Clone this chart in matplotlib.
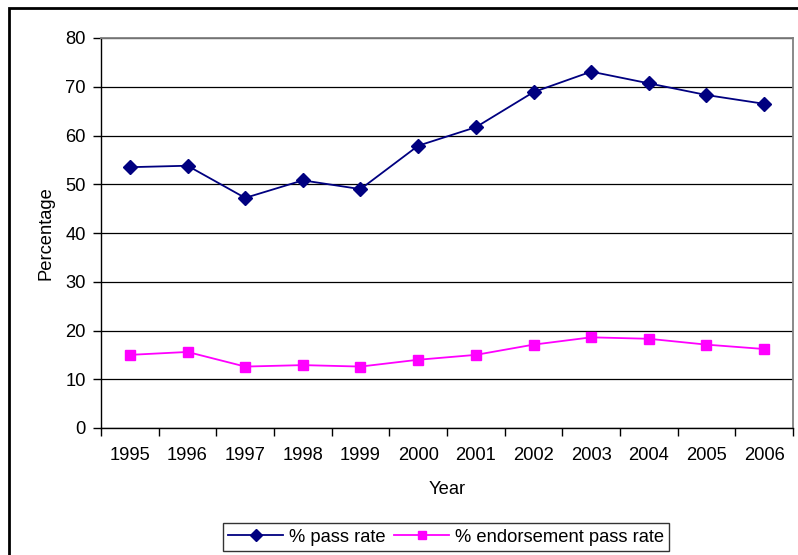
import matplotlib
matplotlib.use("Agg")
import matplotlib.pyplot as plt
from matplotlib.patches import Rectangle

plt.rcParams['font.family'] = ['Liberation Sans', 'DejaVu Sans']

years = ['1995', '1996', '1997', '1998', '1999', '2000',
         '2001', '2002', '2003', '2004', '2005', '2006']
pass_rate = [53.5, 53.8, 47.2, 50.8, 49.0, 57.9, 61.7, 68.9, 73.1, 70.7, 68.3, 66.5]
endorsement_rate = [15.0, 15.6, 12.6, 12.9, 12.6, 14.0, 15.0, 17.1, 18.6, 18.3, 17.1, 16.2]

fs = 13.2

fig = plt.figure(figsize=(7.98, 5.55), dpi=100)
ax = fig.add_axes([101 / 798, 1 - 428 / 555, 692 / 798, 390 / 555])

x = [i + 0.5 for i in range(len(years))]
ax.plot(x, pass_rate, color='#000080', marker='D', markersize=7, linewidth=1.3,
        label='% pass rate')
ax.plot(x, endorsement_rate, color='#FF00FF', marker='s', markersize=7, linewidth=1.3,
        label='% endorsement pass rate')

ax.set_xlim(0, len(years))
ax.set_ylim(0, 80)
ax.set_yticks(range(0, 81, 10))
ax.set_xticks(range(0, len(years) + 1))
ax.set_xticklabels([])
ax.set_xticks(x, minor=True)
ax.set_xticklabels(years, minor=True)
ax.tick_params(axis='x', which='minor', length=0, pad=14, labelsize=fs)
ax.tick_params(axis='x', which='major', length=6, width=1, direction='out')
ax.tick_params(axis='y', length=6, width=1, direction='out', labelsize=fs, pad=5)

ax.yaxis.grid(True, color='black', linewidth=0.9)
ax.set_axisbelow(True)
for side in ['top', 'right']:
    ax.spines[side].set_color('#808080')
    ax.spines[side].set_linewidth(1.3)
for side in ['left', 'bottom']:
    ax.spines[side].set_color('black')
    ax.spines[side].set_linewidth(1.0)

ax.set_xlabel('Year', fontsize=fs, labelpad=12)
ax.set_ylabel('Percentage', fontsize=fs, labelpad=8)

leg = fig.legend(loc='center', bbox_to_anchor=(446 / 798, 1 - 537 / 555), ncol=2,
                 fontsize=fs, frameon=True, fancybox=False, edgecolor='black',
                 handlelength=3.0, columnspacing=0.5, handletextpad=0.3,
                 borderpad=0.3, markerscale=0.85)
leg.get_frame().set_linewidth(1.0)

# outer chart border (only left and top visible in the reference)
top = 1 - 7.5 / 555
fig.patches.append(Rectangle((8.5 / 798, -0.2), 1.2, top + 0.2,
                             transform=fig.transFigure, fill=False,
                             edgecolor='black', linewidth=2))

fig.savefig('out.png', dpi=100)
